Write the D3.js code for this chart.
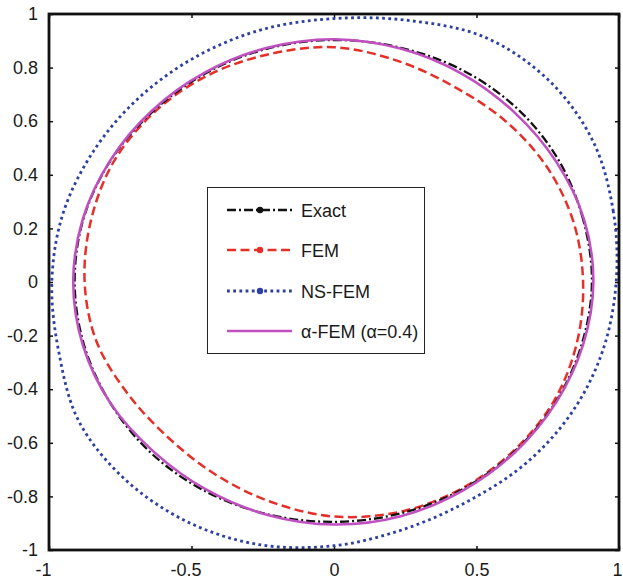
<!DOCTYPE html>
<html>
<head>
<meta charset="utf-8">
<title>Deformed boundary</title>
<style>
  body { margin: 0; background: #fff; }
  svg { display: block; }
  .axis text { font-family: "Liberation Sans", Arial, sans-serif; font-size: 18px; fill: #1a1a1a; }
  .axis line { stroke: #111; stroke-width: 1.5; }
  .axis path { display: none; }
  .frame { fill: none; stroke: #111; stroke-width: 2.8; }
  .legend text { font-family: "Liberation Sans", Arial, sans-serif; font-size: 18px; fill: #1a1a1a; }
</style>
</head>
<body>
<svg width="623" height="579"></svg>
<script src="https://d3js.org/d3.v7.min.js"></script>
<script>
// tick values and labels
var xTicks = [-1, -0.5, 0, 0.5, 1];
var xTickLabels = ["-1", "-0.5", "0", "0.5", "1"];
var yTicks = [-1, -0.8, -0.6, -0.4, -0.2, 0, 0.2, 0.4, 0.6, 0.8, 1];
var yTickLabels = ["-1", "-0.8", "-0.6", "-0.4", "-0.2", "0", "0.2", "0.4", "0.6", "0.8", "1"];

// series names
var seriesNames = ["Exact", "FEM", "NS-FEM", "\u03b1-FEM (\u03b1=0.4)"];

// boundary points [x, y]
var exactPts = [
  [0.905, 0], [0.874, 0.234], [0.788, 0.455], [0.645, 0.645], [0.455, 0.788], [0.234, 0.874],
  [0, 0.903], [-0.233, 0.871], [-0.45, 0.779], [-0.636, 0.636], [-0.784, 0.453], [-0.879, 0.236],
  [-0.91, 0], [-0.877, -0.235], [-0.784, -0.453], [-0.64, -0.64], [-0.451, -0.781], [-0.232, -0.867],
  [0, -0.895], [0.232, -0.864], [0.448, -0.775], [0.633, -0.633], [0.777, -0.449], [0.869, -0.233]
];
var femPts = [
  [0.874, 0], [0.84, 0.225], [0.746, 0.431], [0.601, 0.601], [0.421, 0.729], [0.221, 0.826],
  [0, 0.876], [-0.228, 0.85], [-0.445, 0.77], [-0.632, 0.632], [-0.774, 0.447], [-0.853, 0.229],
  [-0.875, 0], [-0.833, -0.223], [-0.723, -0.418], [-0.581, -0.581], [-0.415, -0.719], [-0.22, -0.821],
  [0, -0.875], [0.23, -0.858], [0.446, -0.772], [0.63, -0.63], [0.771, -0.445], [0.852, -0.228]
];
var nsfemPts = [
  [0.99, 0], [0.98, 0.263], [0.909, 0.525], [0.753, 0.753], [0.528, 0.914], [0.261, 0.976],
  [0, 0.983], [-0.252, 0.942], [-0.485, 0.84], [-0.686, 0.686], [-0.844, 0.488], [-0.951, 0.255],
  [-0.99, 0], [-0.966, -0.259], [-0.896, -0.518], [-0.735, -0.735], [-0.516, -0.894], [-0.263, -0.98],
  [0, -0.984], [0.247, -0.922], [0.472, -0.817], [0.675, -0.675], [0.837, -0.483], [0.944, -0.253]
];
var alphaPts = [
  [0.91, 0], [0.877, 0.235], [0.779, 0.45], [0.633, 0.633], [0.449, 0.777], [0.233, 0.871],
  [0, 0.906], [-0.234, 0.874], [-0.452, 0.782], [-0.639, 0.639], [-0.785, 0.454], [-0.881, 0.236],
  [-0.915, 0], [-0.881, -0.236], [-0.784, -0.453], [-0.633, -0.633], [-0.448, -0.775], [-0.233, -0.869],
  [0, -0.905], [0.234, -0.874], [0.45, -0.779], [0.635, -0.635], [0.779, -0.45], [0.874, -0.234]
];

var svg = d3.select("svg"),
    margin = {top: 14, right: 4, bottom: 29, left: 49},
    width = +svg.attr("width") - margin.left - margin.right,
    height = +svg.attr("height") - margin.top - margin.bottom,
    g = svg.append("g").attr("transform", "translate(" + margin.left + "," + margin.top + ")");

var x = d3.scaleLinear().domain([-1, 1]).range([0, width]),
    y = d3.scaleLinear().domain([-1, 1]).range([height, 0]);

// styles per series
var styles = [
  {pts: exactPts, color: "#111111", width: 2.3, dash: "9,3,2,3", dot: true},
  {pts: femPts, color: "#e5302a", width: 2.5, dash: "9,4.5", dot: true},
  {pts: nsfemPts, color: "#2c3fa3", width: 2.8, dash: "2.8,3.4", dot: true},
  {pts: alphaPts, color: "#c04fc0", width: 2.6, dash: null, dot: false}
];

var line = d3.line()
  .x(function(d) { return x(d[0]); })
  .y(function(d) { return y(d[1]); })
  .curve(d3.curveCardinalClosed.tension(0));

// axes, ticks pointing inward
var xAxisG = g.append("g").attr("class", "axis")
  .attr("transform", "translate(0," + height + ")")
  .call(d3.axisBottom(x).tickValues(xTicks).tickSizeInner(-4).tickSizeOuter(0).tickPadding(13)
    .tickFormat(function(d, i) { return xTickLabels[i]; }));
// nudge the labels the way the original sits them
xAxisG.selectAll(".tick text").attr("dx", function(d) { return d < 0 ? -6 : (d === 1 ? -2 : 0); });

g.append("g").attr("class", "axis")
  .call(d3.axisTop(x).tickValues(xTicks).tickSizeInner(-4).tickSizeOuter(0).tickFormat(""));
g.append("g").attr("class", "axis")
  .call(d3.axisLeft(y).tickValues(yTicks).tickSizeInner(-4).tickSizeOuter(0).tickPadding(11)
    .tickFormat(function(d, i) { return yTickLabels[i]; }));
g.append("g").attr("class", "axis")
  .attr("transform", "translate(" + width + ",0)")
  .call(d3.axisRight(y).tickValues(yTicks).tickSizeInner(-4).tickSizeOuter(0).tickFormat(""));

// curves: NS-FEM, FEM, Exact, then alpha-FEM on top
[2, 1, 0, 3].forEach(function(i) {
  var s = styles[i];
  g.append("path")
    .datum(s.pts)
    .attr("fill", "none")
    .attr("stroke", s.color)
    .attr("stroke-width", s.width)
    .attr("stroke-dasharray", s.dash)
    .attr("d", line);
});

g.append("rect").attr("class", "frame").attr("width", width).attr("height", height);

// legend
var legend = svg.append("g").attr("class", "legend");
legend.append("rect")
  .attr("x", 207.5).attr("y", 187.5).attr("width", 217).attr("height", 166)
  .attr("fill", "#fff").attr("stroke", "#222").attr("stroke-width", 1);

var rowY = [210, 250, 291, 331];
seriesNames.forEach(function(name, i) {
  var s = styles[i];
  legend.append("line")
    .attr("x1", 227).attr("x2", 292).attr("y1", rowY[i]).attr("y2", rowY[i])
    .attr("stroke", s.color).attr("stroke-width", s.width)
    .attr("stroke-dasharray", s.dash);
  if (s.dot) {
    legend.append("circle").attr("cx", 260).attr("cy", rowY[i]).attr("r", 3.2).attr("fill", s.color);
  }
  legend.append("text").attr("x", 301).attr("y", rowY[i] + 6.5).text(name);
});
</script>
</body>
</html>
